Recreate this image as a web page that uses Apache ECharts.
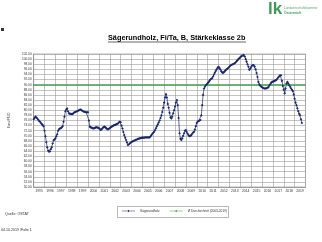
<!DOCTYPE html>
<html><head><meta charset="utf-8">
<script src="https://cdn.jsdelivr.net/npm/echarts@6/dist/echarts.min.js"></script>
<style>html,body{margin:0;padding:0;background:#fff}#c{width:322px;height:242px}</style>
</head><body><div id="c"></div>
<script>
// Monthly prices from Jan 1995 (EUR/FMO)
const years = ['1995','1996','1997','1998','1999','2000','2001','2002','2003','2004','2005','2006','2007','2008','2009','2010','2011','2012','2013','2014','2015','2016','2017','2018','2019'];
const v1995 = [76.5,77.0,77.5,77.2,76.8,76.3,75.8,75.5,75.0,74.6,74.2,73.8];
const v1996 = [72.0,69.8,67.5,65.5,64.2,63.8,64.0,64.8,65.5,67.0,68.3,68.6];
const v1997 = [69.0,69.8,70.6,72.0,72.6,72.9,73.0,73.3,73.8,75.5,77.5,79.6];
const v1998 = [80.3,80.7,79.5,78.8,78.6,78.6,78.5,78.5,78.9,79.2,79.3,79.5];
const v1999 = [79.6,79.8,80.0,80.2,80.3,80.0,79.7,79.5,79.4,79.3,79.2,79.2];
const v2000 = [79.2,76.0,73.6,73.3,73.2,73.0,72.9,73.0,73.2,73.4,73.3,73.2];
const v2001 = [73.0,72.7,72.3,72.6,73.0,73.4,73.6,73.4,73.0,72.7,72.5,72.8];
const v2002 = [73.0,73.3,73.6,73.8,74.0,74.2,74.3,74.5,74.6,74.8,75.2,75.5];
const v2003 = [75.3,74.0,72.9,71.5,70.3,69.3,68.4,67.4,66.4,66.6,67.0,67.3];
const v2004 = [67.6,67.8,68.0,68.2,68.3,68.5,68.6,68.8,68.9,69.0,69.1,69.2];
const v2005 = [69.3,69.3,69.3,69.4,69.4,69.4,69.4,69.4,69.4,69.8,70.3,70.8];
const v2006 = [71.2,71.6,72.3,73.0,73.8,74.5,75.2,76.0,77.0,78.0,79.3,81.0];
const v2007 = [83.0,85.0,86.3,85.0,82.5,81.0,79.0,77.2,76.8,77.5,78.8,80.0];
const v2008 = [81.5,83.0,84.0,82.0,77.0,71.0,68.8,68.4,69.0,70.0,71.0,72.0];
const v2009 = [72.3,71.5,70.8,70.2,69.9,70.0,70.3,70.8,71.3,71.6,72.5,73.8];
const v2010 = [75.0,75.5,75.8,76.0,76.2,78.0,82.0,86.0,88.5,89.2,89.8,90.2];
const v2011 = [90.6,91.0,91.5,92.0,92.3,92.5,93.2,94.0,94.7,95.4,96.0,96.6];
const v2012 = [97.0,96.6,96.0,95.3,94.8,94.6,94.9,95.3,95.7,96.0,96.3,96.6];
const v2013 = [97.0,97.4,97.7,97.9,98.0,98.2,98.4,98.8,99.2,99.6,100.0,100.4];
const v2014 = [100.7,101.0,101.3,101.5,101.6,101.0,100.0,99.0,98.0,97.0,95.8,96.3];
const v2015 = [96.9,97.4,97.7,97.6,97.0,96.0,94.6,93.0,91.1,90.2,89.6,89.3];
const v2016 = [89.0,88.8,88.6,88.5,88.5,88.6,88.8,89.0,89.6,90.2,90.7,91.1];
const v2017 = [91.2,91.3,91.5,91.7,91.9,92.4,92.9,93.3,93.7,93.6,91.5,89.5];
const v2018 = [88.0,86.6,88.5,90.5,91.1,90.5,89.8,89.2,88.6,88.0,87.5,86.2];
const v2019 = [84.5,83.0,82.0,80.8,79.6,78.6,78.1,76.5,75.0];
const averageValue = 89.8;
const yTicks = {min: 50, max: 102, step: 2};

const monthly = [].concat(v1995,v1996,v1997,v1998,v1999,v2000,v2001,v2002,v2003,v2004,v2005,v2006,v2007,v2008,v2009,v2010,v2011,v2012,v2013,v2014,v2015,v2016,v2017,v2018,v2019);
const priceData = monthly.map((v,i)=>[i, v]);
const avgData = [[0, averageValue],[years.length*12, averageValue]];

const F = 'Liberation Sans, Arial, sans-serif';
const legendIcon = 'path://M0,2.2L20,2.2L20,2.8L0,2.8Z M10,0.6L11.6,2.5L10,4.4L8.4,2.5Z';
const chart = echarts.init(document.getElementById('c'), null, {renderer:'canvas'});
chart.setOption({
  animation:false,
  backgroundColor:'#fff',
  textStyle:{fontFamily:F},
  title:{text:'Sägerundholz, Fi/Ta, B, Stärkeklasse 2b', left:108, top:34, padding:0,
    textStyle:{fontSize:7.3, fontWeight:'bold', color:'#000', fontFamily:F}},
  grid:{left:22.7, right:16.5, top:54, bottom:55, show:true, borderColor:'#888', borderWidth:0.6},
  legend:{left:122, top:209.5, padding:0, itemWidth:13, itemHeight:3.5, itemGap:10, icon:legendIcon,
    textStyle:{fontSize:3.2, color:'#333', fontFamily:F}, data:['Sägerundholz','Ø Durchschnitt (2003-2019)']},
  xAxis:[
    {type:'category', data:years, boundaryGap:true, gridIndex:0,
     axisLine:{lineStyle:{color:'#888', width:0.6}}, axisTick:{show:false},
     axisLabel:{fontSize:3.4, color:'#333', margin:3, interval:0},
     splitLine:{show:true, interval:0, lineStyle:{color:'#9a9a9a', width:0.6}}},
    {type:'value', min:0, max:years.length*12, show:false, gridIndex:0}
  ],
  yAxis:{type:'value', min:yTicks.min, max:yTicks.max, interval:yTicks.step,
    name:'Euro/FMO', nameLocation:'middle', nameGap:14, nameRotate:90,
    nameTextStyle:{fontSize:3.4, color:'#333'},
    axisLine:{show:true, lineStyle:{color:'#888', width:0.6}}, axisTick:{show:false},
    axisLabel:{fontSize:3.2, color:'#333', margin:2, formatter:v=>v.toFixed(2)},
    splitLine:{lineStyle:{color:'#9a9a9a', width:0.6}}},
  series:[
    {name:'Sägerundholz', type:'line', xAxisIndex:1, data:priceData,
     symbol:'diamond', symbolSize:2.6, showSymbol:true,
     lineStyle:{color:'#1a2672', width:0.7}, itemStyle:{color:'#1a2672'}},
    {name:'Ø Durchschnitt (2003-2019)', type:'line', xAxisIndex:1, data:avgData,
     symbol:'none', lineStyle:{color:'#2f9a3a', width:1.3}, itemStyle:{color:'#2f9a3a'}}
  ],
  graphic:[
    {type:'rect', shape:{x:117.5, y:206.5, width:111, height:11}, style:{fill:'none', stroke:'#888', lineWidth:0.6}},
    {type:'line', shape:{x1:108, y1:42, x2:246, y2:42}, style:{stroke:'#000', lineWidth:0.6}},
    {type:'text', left:268, top:1, style:{text:'lk', fontSize:17, fontWeight:'bold', fill:'#3f9b57', fontFamily:F}},
    {type:'text', left:284, top:7, style:{text:'Landwirtschaftskammer', fontSize:3.2, fill:'#5aa870', fontFamily:F}},
    {type:'text', left:284, top:12, style:{text:'Österreich', fontSize:3.4, fill:'#3f9b57', fontWeight:'bold', fontFamily:F}},
    {type:'rect', shape:{x:1, y:28, width:3, height:3}, style:{fill:'#333'}},
    {type:'text', left:5, top:212, style:{text:'Quelle: ÖSTAT', fontSize:3.6, fill:'#333', fontFamily:F}},
    {type:'text', left:1, top:228, style:{text:'04.10.2019 /Folie 1', fontSize:3.6, fill:'#333', fontFamily:F}}
  ]
});
</script></body></html>
